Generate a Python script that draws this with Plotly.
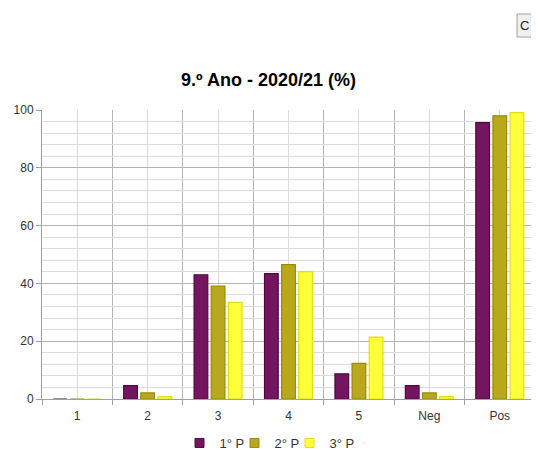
import plotly.graph_objects as go

categories = ["1", "2", "3", "4", "5", "Neg", "Pos"]
series_names = ["1° P", "2° P", "3° P"]
p1 = [0, 4.6, 43.0, 43.4, 8.7, 4.6, 95.6]
p2 = [0, 2.1, 39.1, 46.5, 12.3, 2.1, 98.0]
p3 = [0, 0.8, 33.4, 44.1, 21.4, 0.8, 99.1]

fills = ["#741560", "#B9A81C", "#FFFF3A"]
borders = ["#56063F", "#9A8B05", "#E3DC1A"]

# the page body adds an 8px margin, so the figure is drawn 8px smaller
OFF = 8
W, H = 539 - OFF, 450 - OFF
L, R, T, B = 42 - OFF, 4, 110 - OFF, 51

x_pos = list(range(len(categories)))
fig = go.Figure()
for name, vals, fc, bc in zip(series_names, [p1, p2, p3], fills, borders):
    fig.add_trace(go.Bar(
        x=x_pos, y=vals, name=name, showlegend=False,
        marker=dict(color=fc, line=dict(color=bc, width=1.2)),
    ))
# legend entries with small square swatches
for name, fc, bc in zip(series_names, fills, borders):
    fig.add_trace(go.Scatter(
        x=[None], y=[None], mode="markers", name=name,
        marker=dict(symbol="square", size=9, color=fc, line=dict(color=bc, width=1)),
    ))
# blank spacer entry so the last label is not clipped by the fixed entry width
fig.add_trace(go.Scatter(x=[None], y=[None], mode="markers", name=" ",
                         marker=dict(size=1, opacity=0), hoverinfo="skip"))

def cx(p):
    return (p - OFF) / W

def cy(p):
    return 1 - (p - OFF) / H

def pxp(p):  # page x -> paper
    return (p - 42) / (535 - 42)

def pyp(p):  # page y -> paper
    return (399 - p) / (399 - 110)

fig.update_layout(
    width=W, height=H,
    margin=dict(l=L, r=R, t=T, b=B, autoexpand=False),
    paper_bgcolor="white", plot_bgcolor="white",
    barmode="group", bargap=0.27, bargroupgap=0.2,
    font=dict(family="Liberation Sans, Arial, sans-serif", size=12, color="#333333"),
    title=dict(text="<b>9.º Ano - 2020/21 (%)</b>", x=cx(268.5), xref="container",
               xanchor="center", y=cy(80), yref="container", yanchor="middle",
               font=dict(size=18, color="#000000")),
    showlegend=True,
    legend=dict(orientation="h", x=cx(179.5), xanchor="left", xref="container",
                y=cy(443), yanchor="middle", yref="container",
                font=dict(size=13, color="#333333"), itemwidth=30,
                entrywidth=10, entrywidthmode="pixels",
                traceorder="normal"),
    shapes=[dict(type="rect", xref="paper", yref="paper",
                 x0=pxp(517), x1=pxp(548), y0=pyp(14), y1=pyp(37),
                 fillcolor="#F0F0F0", line=dict(color="#A0A0A0", width=1))],
    annotations=[dict(text="C", xref="paper", yref="paper", x=pxp(518),
                      y=pyp(25.5), xanchor="left", yanchor="middle",
                      showarrow=False, font=dict(size=13, color="#222"))],
)

fig.update_xaxes(
    range=[-0.5, len(categories) - 0.5],
    tickvals=x_pos, ticktext=categories, ticks="",
    showgrid=True, gridcolor="#DCDCDC", gridwidth=1,
    minor=dict(tickvals=[i - 0.5 for i in range(len(categories) + 1)],
               ticks="outside", ticklen=5, tickcolor="#A0A0A0",
               showgrid=True, gridcolor="#B4B4B4", gridwidth=1),
    showline=True, linecolor="#A0A0A0", linewidth=1,
    zeroline=False, fixedrange=True, ticklabelstandoff=6,
)
fig.update_yaxes(
    range=[0, 100], dtick=20, ticks="outside", ticklen=5, tickcolor="#A0A0A0",
    showgrid=True, gridcolor="#B4B4B4", gridwidth=1,
    minor=dict(dtick=4, showgrid=True, gridcolor="#DCDCDC", gridwidth=1),
    showline=True, linecolor="#A0A0A0", linewidth=1,
    zeroline=False, fixedrange=True,
)

fig.write_html("out.html")
